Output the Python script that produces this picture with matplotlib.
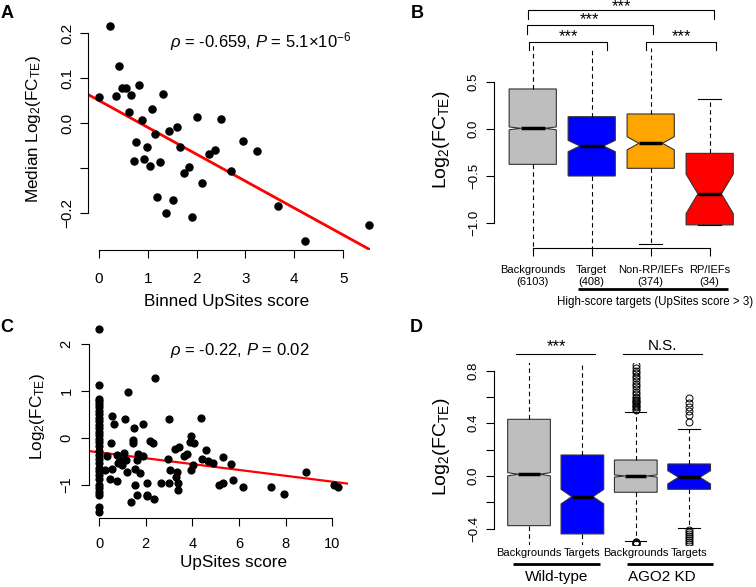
import matplotlib
matplotlib.use('Agg')
import matplotlib.pyplot as plt

plt.rcParams['font.family'] = ['Liberation Sans', 'DejaVu Sans']
plt.rcParams['mathtext.fontset'] = 'custom'
plt.rcParams['mathtext.rm'] = 'Liberation Sans'
plt.rcParams['mathtext.it'] = 'Liberation Sans:italic'
plt.rcParams['mathtext.bf'] = 'Liberation Sans:bold'

# ---- panel A: binned UpSites score vs median log2(FC_TE)
a_x = [0.225, 0.0, 0.416, 0.348, 0.478, 0.553, 0.655, 0.812, 0.614, 0.88,
       1.09, 1.31, 1.14, 0.758, 0.99, 0.71, 0.93, 1.044, 1.24, 1.44,
       1.60, 1.665, 1.75, 1.835, 2.005, 2.11, 2.245, 2.367, 2.50, 1.19,
       1.51, 1.37, 1.91, 2.71, 2.955, 3.23, 3.66, 4.22, 5.53]
a_y = [0.216, 0.058, 0.126, 0.059, 0.077, 0.078, 0.062, 0.084, 0.024, 0.007,
       0.031, 0.064, -0.025, -0.042, -0.054, -0.084, -0.079, -0.096, -0.087, -0.0185,
       -0.009, -0.053, -0.110, -0.0985, 0.0126, -0.133, -0.069, -0.059, 0.008, -0.164,
       -0.170, -0.199, -0.209, -0.106, -0.040, -0.062, -0.185, -0.262, -0.226]
a_fit = (0.050, -0.0597)   # intercept, slope

# ---- panel C: UpSites score vs log2(FC_TE)
c_x0 = [2.33, 1.13, 0.83, 0.78, 0.72, 0.65, 0.58, 0.50, 0.42, 0.35, 0.28, 0.20,
        0.12, 0.05, -0.02, -0.10, -0.18, -0.28, -0.36, -0.45, -0.55, -0.65,
        -0.72, -0.80, -0.88, -1.00, -1.08, -1.15, -1.22, -1.48, -1.58]
c_x = [0.57, 0.66, 0.51, 0.36, 0.57, 0.27, 0.47, 0.76, 0.76, 0.9, 0.97, 1.09,
       1.11, 1.23, 1.19, 1.16, 1.51, 1.47, 1.47, 1.54, 1.54, 1.61, 1.36, 1.61,
       1.69, 1.76, 1.87, 1.9, 2.04, 2.04, 2.36, 2.19, 2.3, 2.4, 2.64, 3.0,
       2.94, 3.04, 3.01, 3.26, 3.43, 3.33, 3.3, 3.4, 3.4, 3.66, 3.76, 3.94,
       3.9, 4.09, 3.93, 4.01, 4.36, 4.4, 4.57, 4.69, 4.9, 5.16, 5.3, 5.33,
       5.66, 5.76, 6.19, 7.36, 7.94, 8.86, 10.09, 10.26, 0.8, 1.0, 2.07]
c_y = [0.46, 0.29, -0.11, -0.39, -0.66, -0.70, -0.89, -0.92, -0.37, -0.48, -0.59, -0.32,
       0.41, 0.99, -0.73, -0.48, 0.2, -0.04, -0.12, -0.66, -1.01, -1.23, -1.37, -0.48,
       -0.34, -0.76, 0.29, -0.39, -0.96, -1.24, -1.32, -0.06, -0.12, 1.27, -0.96, 0.41,
       -0.46, -0.69, -0.96, -0.23, -0.19, -0.73, -0.84, -0.96, -1.11, -0.39, -0.34, 0.04,
       -0.09, -0.11, -0.69, -0.59, 0.43, -0.46, -0.26, -0.5, -0.54, -1.01, -0.96, -0.42,
       -0.56, -0.91, -1.05, -1.05, -1.21, -0.73, -1.0, -1.05, -0.55, -0.5, -1.23]
c_fit = (-0.312, -0.0627)

# ---- panel B: box statistics
b_names = ['Backgrounds\n(6103)', 'Target\n(408)', 'Non-RP/IEFs\n(374)', 'RP/IEFs\n(34)']
b_q1 = [-0.376, -0.50, -0.418, -1.02]
b_med = [0.007, -0.181, -0.152, -0.69]
b_q3 = [0.426, 0.131, 0.16, -0.259]
b_lo = [-1.5, -1.5, -1.22, -1.02]
b_hi = [0.894, 0.84, 0.862, 0.32]
b_notch = [0.015, 0.06, 0.07, 0.21]
b_colors = ['#BEBEBE', '#0000FF', '#FFA500', '#FF0000']

# ---- panel D: box statistics
d_names = ['Backgrounds', 'Targets', 'Backgrounds', 'Targets']
d_q1 = [-0.377, -0.44, -0.124, -0.101]
d_med = [0.013, -0.157, 0.0, -0.01]
d_q3 = [0.43, 0.159, 0.121, 0.091]
d_lo = [-0.8, -0.8, -0.491, -0.392]
d_hi = [1.1, 1.1, 0.488, 0.357]
d_notch = [0.012, 0.055, 0.008, 0.05]
d_colors = ['#BEBEBE', '#0000FF', '#BEBEBE', '#0000FF']
kd_bg_out = [0.50, 0.51, 0.52, 0.53, 0.54, 0.55, 0.56, 0.57, 0.58, 0.59, 0.60,
             0.62, 0.64, 0.66, 0.68, 0.70, 0.72, 0.74, 0.76, 0.78, 0.80, 0.82, 0.84,
             -0.50, -0.505, -0.51, -0.515, -0.52]
kd_tg_out = [0.412, 0.463, 0.496, 0.526, 0.557, 0.59,
             -0.41, -0.425, -0.44, -0.455, -0.47, -0.485, -0.50, -0.515]

W, H = 756, 587
fig = plt.figure(figsize=(W / 100, H / 100), dpi=100)


def axes_px(l, t, r, b):
    return fig.add_axes([l / W, 1 - b / H, (r - l) / W, (b - t) / H])


def r_style(ax, fs):
    ax.spines['top'].set_visible(False)
    ax.spines['right'].set_visible(False)
    for s in ('left', 'bottom'):
        ax.spines[s].set_linewidth(0.8)
    ax.tick_params(length=6, width=0.8, labelsize=fs)
    ax.tick_params(axis='y', labelrotation=90)
    for lab in ax.get_yticklabels():
        lab.set_verticalalignment('center')


def r_box(ax, q1, med, q3, lo, hi, notch, colors, fliers=None):
    stats = []
    for i in range(len(q1)):
        stats.append(dict(q1=q1[i], med=med[i], q3=q3[i], whislo=lo[i], whishi=hi[i],
                          cilo=med[i] - notch[i], cihi=med[i] + notch[i],
                          fliers=fliers[i] if fliers else []))
    bp = ax.bxp(stats, positions=range(1, len(q1) + 1), widths=0.8, shownotches=True,
                patch_artist=True,
                boxprops=dict(edgecolor='#333333', linewidth=0.8),
                whiskerprops=dict(color='black', linewidth=0.8, linestyle=(0, (4, 3))),
                capprops=dict(color='black', linewidth=0.8),
                medianprops=dict(color='black', linewidth=2.5, solid_capstyle='butt'),
                flierprops=dict(marker='o', markersize=5, markerfacecolor='none',
                                markeredgecolor='black', markeredgewidth=0.7))
    for patch, c in zip(bp['boxes'], colors):
        patch.set_facecolor(c)
    return bp


def bracket(ax, x0, x1, y, ydrop, label, fs=12, dy=0.0):
    ax.plot([x0, x0, x1, x1], [y - ydrop, y, y, y - ydrop], color='black', lw=0.8,
            clip_on=False)
    ax.text((x0 + x1) / 2, y + dy, label, ha='center', va='bottom', fontsize=fs)


# ---------------- A
ax = axes_px(88, 17.7, 370, 250)
ax.scatter(a_x, a_y, s=26, color='black', zorder=3, clip_on=False)
xs = [-0.225, 5.55]
ax.plot(xs, [a_fit[0] + a_fit[1] * v for v in xs], color='red', lw=2)
ax.set_xlim(-0.225, 5.55)
ax.set_ylim(-0.282, 0.234)
ax.set_xticks(range(6))
ax.set_yticks([-0.2, -0.1, 0.0, 0.1, 0.2])
ax.set_yticklabels(['\u22120.2', '', '0.0', '0.1', '0.2'])
ax.spines['left'].set_bounds(-0.2, 0.2)
ax.spines['bottom'].set_bounds(0, 5)
r_style(ax, 11)
ax.tick_params(axis='x', pad=10)
ax.tick_params(axis='y', pad=4)
ax.set_xlabel('Binned UpSites score', fontsize=12.3)
ax.xaxis.set_label_coords(0.493, -0.19)
ax.set_ylabel(r'Median Log$_2$(FC$_{\rm TE}$)', fontsize=12.3)
ax.yaxis.set_label_coords(-0.16, 0.52)
ax.text(1.455, 0.169, r'$\rho$ = -0.659, $P$ = 5.1×10$^{-6}$', fontsize=12,
        ha='left', va='baseline')

# ---------------- B
ax = axes_px(493.8, 43, 748.6, 248)
bp = r_box(ax, b_q1, b_med, b_q3, b_lo, b_hi, b_notch, b_colors)
for i in (1, 3, 5):
    bp['caps'][i].set_visible(False)
ax.set_xlim(0.34, 4.66)
ax.set_ylim(-1.266, 0.915)
ax.set_yticks([-1.0, -0.5, 0.0, 0.5])
ax.set_yticklabels(['\u22121.0', '\u22120.5', '0.0', '0.5'])
ax.set_xticks([1, 2, 3, 4])
ax.set_xticklabels(b_names, fontsize=8, linespacing=1.3)
ax.spines['left'].set_bounds(-1.0, 0.5)
ax.spines['bottom'].set_bounds(1, 4)
r_style(ax, 9.5)
ax.tick_params(axis='x', labelsize=8, pad=6)
ax.tick_params(axis='y', pad=4)
ax.set_ylabel(r'Log$_2$(FC$_{\rm TE}$)', fontsize=14)
ax.yaxis.set_label_coords(-0.164, 0.527)
bracket(ax, 0.92, 4.08, 1.266, 0.096, '***', dy=-0.04)
bracket(ax, 0.90, 3.04, 1.106, 0.096, '***', dy=-0.02)
bracket(ax, 0.94, 2.26, 0.925, 0.085, '***', dy=-0.02)
bracket(ax, 2.92, 4.11, 0.925, 0.085, '***', dy=-0.02)
ax.plot([1.77, 4.31], [-1.70, -1.70], color='black', lw=2, clip_on=False,
        solid_capstyle='butt')
ax.text(3.07, -1.84, 'High-score targets (UpSites score > 3)', fontsize=8.3,
        ha='center', va='center')

# ---------------- C
ax = axes_px(89, 321.4, 347.7, 517.7)
ax.scatter([0] * len(c_x0), c_x0, s=24, color='black', zorder=3, clip_on=False)
ax.scatter(c_x, c_y, s=24, color='black', zorder=3, clip_on=False)
xs = [-0.43, 10.66]
ax.plot(xs, [c_fit[0] + c_fit[1] * v for v in xs], color='red', lw=1.6)
ax.set_xlim(-0.43, 10.66)
ax.set_ylim(-1.71, 2.49)
ax.set_xticks([0, 2, 4, 6, 8, 10])
ax.set_yticks([-1, 0, 1, 2])
ax.set_yticklabels(['\u22121', '0', '1', '2'])
ax.spines['left'].set_bounds(-1, 2)
ax.spines['bottom'].set_bounds(0, 10)
r_style(ax, 10.5)
ax.tick_params(axis='x', pad=8)
ax.tick_params(axis='y', pad=5)
ax.set_xlabel('UpSites score', fontsize=12.3)
ax.xaxis.set_label_coords(0.557, -0.19)
ax.set_ylabel(r'Log$_2$(FC$_{\rm TE}$)', fontsize=12.3)
ax.yaxis.set_label_coords(-0.162, 0.514)
ax.text(3.04, 1.77, r'$\rho$ = -0.22, $P$ = 0.02', fontsize=12, ha='left',
        va='baseline')

# ---------------- D
ax = axes_px(493.8, 363.3, 724.4, 545)
bp = r_box(ax, d_q1, d_med, d_q3, d_lo, d_hi, d_notch, d_colors,
           fliers=[[], [], kd_bg_out, kd_tg_out])
ax.set_xlim(0.34, 4.66)
ax.set_ylim(-0.524, 0.855)
ax.set_yticks([-0.4, -0.2, 0.0, 0.2, 0.4, 0.6, 0.8])
ax.set_yticklabels(['\u22120.4', '', '0.0', '', '0.4', '', '0.8'])
ax.spines['left'].set_bounds(-0.4, 0.8)
ax.spines['bottom'].set_visible(False)
ax.set_xticks([])
r_style(ax, 9.5)
ax.tick_params(axis='y', pad=4)
for i, name in enumerate(d_names):
    ax.text(i + 1, -0.585, name, ha='center', va='center', fontsize=8)
ax.set_ylabel(r'Log$_2$(FC$_{\rm TE}$)', fontsize=14)
ax.yaxis.set_label_coords(-0.181, 0.541)
ax.plot([0.757, 2.236], [0.926, 0.926], color='black', lw=0.8, clip_on=False)
ax.plot([2.76, 4.24], [0.926, 0.926], color='black', lw=0.8, clip_on=False)
ax.text(1.52, 0.925, '***', ha='center', va='bottom', fontsize=12)
ax.text(3.49, 0.935, 'N.S.', ha='center', va='bottom', fontsize=11)
ax.plot([0.70, 2.33], [-0.668, -0.668], color='black', lw=2, clip_on=False,
        solid_capstyle='butt')
ax.plot([2.835, 4.446], [-0.668, -0.668], color='black', lw=2, clip_on=False,
        solid_capstyle='butt')
ax.text(1.52, -0.767, 'Wild-type', ha='center', va='center', fontsize=11)
ax.text(3.49, -0.767, 'AGO2 KD', ha='center', va='center', fontsize=11)

# panel letters
for lab, (px, py) in zip('ABCD', [(7, 13), (417, 13), (7, 327), (416, 327)]):
    fig.text(px / W, 1 - py / H, lab, fontsize=13, fontweight='bold',
             ha='center', va='center')

fig.savefig('out.png', dpi=100)
